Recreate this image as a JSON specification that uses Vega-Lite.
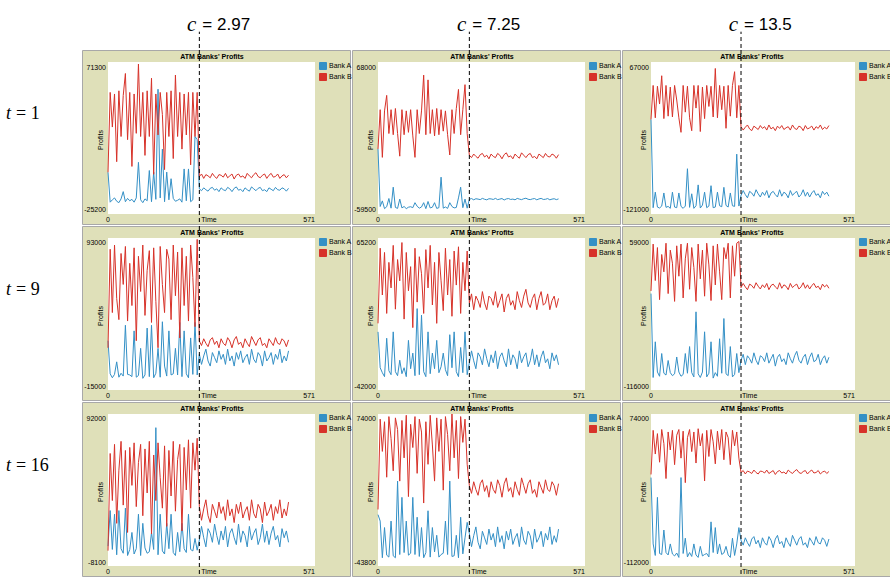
{
  "$schema": "https://vega.github.io/schema/vega-lite/v6.json",
  "background": "white",
  "padding": 0,
  "spacing": 0,
  "config": {
    "view": {"stroke": null},
    "concat": {"spacing": 2},
    "font": "Liberation Sans",
    "range": {"category": ["#3490c6", "#d73229"]},
    "line": {"strokeWidth": 1},
    "text": {"fontSize": 7, "color": "#000000"},
    "legend": {"symbolType": "square", "symbolSize": 49, "symbolStrokeWidth": 1, "symbolStrokeColor": "#333333", "symbolOpacity": 1, "labelFontSize": 7, "labelColor": "#000000", "labelOffset": 2, "rowPadding": -1, "padding": 0},
    "title": {"fontSize": 7, "fontWeight": "bold", "color": "#000000", "offset": -10, "frame": "group", "dx": -4}
  },
  "datasets": {
    "r1c1": [
      {"t":0,"a":1300,"b":1300},{"t":6,"a":-17700,"b":52000},{"t":12,"a":-16200,"b":30000},{"t":18,"a":-15000,"b":51000},{"t":24,"a":-17100,"b":8000},{"t":30,"a":-18000,"b":53000},{"t":36,"a":-15600,"b":24000},{"t":42,"a":-11000,"b":50000},{"t":48,"a":-17400,"b":64000},{"t":54,"a":-15300,"b":22000},{"t":60,"a":-16800,"b":52000},{"t":66,"a":-15900,"b":5000},{"t":72,"a":-17700,"b":51000},{"t":78,"a":-15000,"b":26000},{"t":84,"a":7600,"b":70000},{"t":90,"a":-16200,"b":24000},{"t":96,"a":-18000,"b":52000},{"t":102,"a":-15600,"b":12000},{"t":108,"a":-16800,"b":53000},{"t":114,"a":2400,"b":24000},{"t":120,"a":-17400,"b":61000},{"t":126,"a":1400,"b":0},{"t":132,"a":-15900,"b":51000},{"t":138,"a":54000,"b":25000},{"t":144,"a":-15000,"b":52000},{"t":150,"a":16000,"b":38000},{"t":156,"a":-17400,"b":3000},{"t":162,"a":1400,"b":52000},{"t":168,"a":-16200,"b":24000},{"t":174,"a":-2800,"b":53000},{"t":180,"a":-15300,"b":10000},{"t":186,"a":-17100,"b":63000},{"t":192,"a":-16500,"b":24000},{"t":198,"a":-15600,"b":52000},{"t":204,"a":-17700,"b":16000},{"t":210,"a":3400,"b":51000},{"t":216,"a":-16800,"b":25000},{"t":222,"a":3400,"b":52000},{"t":228,"a":-17400,"b":6000},{"t":234,"a":-16200,"b":52000},{"t":240,"a":24000,"b":24000},{"t":246,"a":22000,"b":52000},
      {"t":252,"a":-9200,"b":-1400},{"t":258,"a":-10400,"b":200},{"t":264,"a":-8600,"b":-2600},{"t":270,"a":-9800,"b":-200},{"t":276,"a":-10700,"b":-1000},{"t":282,"a":-8900,"b":-2200},{"t":288,"a":-8300,"b":600},{"t":294,"a":-10100,"b":-1400},{"t":300,"a":-9200,"b":-2600},{"t":306,"a":-11000,"b":-200},{"t":312,"a":-8600,"b":-600},{"t":318,"a":-9800,"b":-1800},{"t":324,"a":-10400,"b":600},{"t":330,"a":-8300,"b":-2200},{"t":336,"a":-9200,"b":-1000},{"t":342,"a":-11000,"b":200},{"t":348,"a":-8900,"b":-3000},{"t":354,"a":-8000,"b":-600},{"t":360,"a":-10100,"b":200},{"t":366,"a":-9500,"b":-1800},{"t":372,"a":-11000,"b":-1000},{"t":378,"a":-8600,"b":-2600},{"t":384,"a":-9800,"b":600},{"t":390,"a":-10700,"b":-1000},{"t":396,"a":-8000,"b":-2200},{"t":402,"a":-9200,"b":-200},{"t":408,"a":-10400,"b":1000},{"t":414,"a":-8900,"b":-1400},{"t":420,"a":-8300,"b":-2200},{"t":426,"a":-10400,"b":-600},{"t":432,"a":-9800,"b":200},{"t":438,"a":-11000,"b":-2600},{"t":444,"a":-8600,"b":-600},{"t":450,"a":-9500,"b":600},{"t":456,"a":-10400,"b":-1800},{"t":462,"a":-8300,"b":-1400},{"t":468,"a":-9800,"b":200},{"t":474,"a":-10100,"b":-2600},{"t":480,"a":-8600,"b":-1000},{"t":486,"a":-9200,"b":-200},{"t":492,"a":-10700,"b":-2200},{"t":498,"a":-8900,"b":-600}
    ],
    "r1c2": [
      {"t":0,"a":-5000,"b":-5000},{"t":6,"a":-53200,"b":28000},{"t":12,"a":-48500,"b":-12000},{"t":18,"a":-55000,"b":27000},{"t":24,"a":-53400,"b":40000},{"t":30,"a":-46500,"b":8000},{"t":36,"a":-54600,"b":28000},{"t":42,"a":-37000,"b":7000},{"t":48,"a":-54000,"b":29000},{"t":54,"a":-54800,"b":8000},{"t":60,"a":-47000,"b":-11000},{"t":66,"a":-54400,"b":28000},{"t":72,"a":-53200,"b":7000},{"t":78,"a":-55000,"b":27000},{"t":84,"a":-53800,"b":9000},{"t":90,"a":-53400,"b":28000},{"t":96,"a":-54200,"b":6000},{"t":102,"a":-50000,"b":-12000},{"t":108,"a":-53000,"b":28000},{"t":114,"a":-54600,"b":8000},{"t":120,"a":-53600,"b":27000},{"t":126,"a":-50000,"b":57000},{"t":132,"a":-55000,"b":7000},{"t":138,"a":-49000,"b":53000},{"t":144,"a":-54400,"b":8000},{"t":150,"a":-53800,"b":28000},{"t":156,"a":-50000,"b":6000},{"t":162,"a":-54800,"b":29000},{"t":168,"a":-54200,"b":7000},{"t":174,"a":-28600,"b":28000},{"t":180,"a":-54600,"b":10000},{"t":186,"a":-53600,"b":27000},{"t":192,"a":-54800,"b":7000},{"t":198,"a":-50000,"b":-10000},{"t":204,"a":-53200,"b":28000},{"t":210,"a":-54400,"b":8000},{"t":216,"a":-54000,"b":29000},{"t":222,"a":-46000,"b":45000},{"t":228,"a":-37000,"b":7000},{"t":234,"a":-54200,"b":28000},{"t":240,"a":-47000,"b":49000},{"t":246,"a":-54600,"b":8000},
      {"t":252,"a":-47150,"b":-10200},{"t":258,"a":-46550,"b":-12200},{"t":264,"a":-47600,"b":-9200},{"t":270,"a":-46700,"b":-11200},{"t":276,"a":-47000,"b":-12700},{"t":282,"a":-47450,"b":-9700},{"t":288,"a":-46400,"b":-8700},{"t":294,"a":-47150,"b":-11700},{"t":300,"a":-47600,"b":-10200},{"t":306,"a":-46700,"b":-13200},{"t":312,"a":-46850,"b":-9200},{"t":318,"a":-47300,"b":-11200},{"t":324,"a":-46400,"b":-12200},{"t":330,"a":-47450,"b":-8700},{"t":336,"a":-47000,"b":-10200},{"t":342,"a":-46550,"b":-13200},{"t":348,"a":-47750,"b":-9700},{"t":354,"a":-46850,"b":-8200},{"t":360,"a":-46550,"b":-11700},{"t":366,"a":-47300,"b":-10700},{"t":372,"a":-47000,"b":-13200},{"t":378,"a":-47600,"b":-9200},{"t":384,"a":-46400,"b":-11200},{"t":390,"a":-47000,"b":-12700},{"t":396,"a":-47450,"b":-8200},{"t":402,"a":-46700,"b":-10200},{"t":408,"a":-46250,"b":-12200},{"t":414,"a":-47150,"b":-9700},{"t":420,"a":-47450,"b":-8700},{"t":426,"a":-46850,"b":-12200},{"t":432,"a":-46550,"b":-11200},{"t":438,"a":-47600,"b":-13200},{"t":444,"a":-46850,"b":-9200},{"t":450,"a":-46400,"b":-10700},{"t":456,"a":-47300,"b":-12200},{"t":462,"a":-47150,"b":-8700},{"t":468,"a":-46550,"b":-11200},{"t":474,"a":-47600,"b":-11700},{"t":480,"a":-47000,"b":-9200},{"t":486,"a":-46700,"b":-10200},{"t":492,"a":-47450,"b":-12700},{"t":498,"a":-46850,"b":-9700}
    ],
    "r1c3": [
      {"t":0,"a":-4000,"b":-4000},{"t":6,"a":-113200,"b":38000},{"t":12,"a":-94000,"b":-2000},{"t":18,"a":-112400,"b":37000},{"t":24,"a":-113600,"b":15000},{"t":30,"a":-111200,"b":50000},{"t":36,"a":-95000,"b":-3000},{"t":42,"a":-112800,"b":38000},{"t":48,"a":-111600,"b":0},{"t":54,"a":-114000,"b":36000},{"t":60,"a":-94000,"b":-1000},{"t":66,"a":-112400,"b":38000},{"t":72,"a":-113200,"b":20000},{"t":78,"a":-95000,"b":-2000},{"t":84,"a":-111600,"b":-20000},{"t":90,"a":-114000,"b":38000},{"t":96,"a":-111200,"b":5000},{"t":102,"a":-65000,"b":37000},{"t":108,"a":-112800,"b":-2000},{"t":114,"a":-96000,"b":-18000},{"t":120,"a":-114000,"b":38000},{"t":126,"a":-110800,"b":10000},{"t":132,"a":-85000,"b":38000},{"t":138,"a":-113600,"b":-19000},{"t":144,"a":-110000,"b":36000},{"t":150,"a":-94000,"b":-3000},{"t":156,"a":-113200,"b":38000},{"t":162,"a":-111200,"b":12000},{"t":168,"a":-86000,"b":37000},{"t":174,"a":-113200,"b":-1000},{"t":180,"a":-112400,"b":59000},{"t":186,"a":-94000,"b":-2000},{"t":192,"a":-110800,"b":38000},{"t":198,"a":-112000,"b":8000},{"t":204,"a":-88000,"b":37000},{"t":210,"a":-110400,"b":-15000},{"t":216,"a":-112400,"b":38000},{"t":222,"a":-95000,"b":0},{"t":228,"a":-110800,"b":38000},{"t":234,"a":-111600,"b":55000},{"t":240,"a":-47000,"b":-2000},{"t":246,"a":-111200,"b":38000},
      {"t":252,"a":-98000,"b":-13000},{"t":258,"a":-92000,"b":-17200},{"t":264,"a":-97000,"b":-13700},{"t":270,"a":-101000,"b":-10900},{"t":276,"a":-93000,"b":-15800},{"t":282,"a":-95000,"b":-17900},{"t":288,"a":-99000,"b":-12300},{"t":294,"a":-91000,"b":-14400},{"t":300,"a":-96000,"b":-16500},{"t":306,"a":-100000,"b":-11600},{"t":312,"a":-94000,"b":-15100},{"t":318,"a":-98000,"b":-13000},{"t":324,"a":-92000,"b":-17200},{"t":330,"a":-101000,"b":-10900},{"t":336,"a":-95000,"b":-15800},{"t":342,"a":-93000,"b":-13700},{"t":348,"a":-97000,"b":-17900},{"t":354,"a":-100000,"b":-12300},{"t":360,"a":-91000,"b":-15100},{"t":366,"a":-99000,"b":-11600},{"t":372,"a":-94000,"b":-16500},{"t":378,"a":-96000,"b":-14400},{"t":384,"a":-101000,"b":-13000},{"t":390,"a":-92000,"b":-17200},{"t":396,"a":-98000,"b":-10900},{"t":402,"a":-95000,"b":-15100},{"t":408,"a":-93000,"b":-16500},{"t":414,"a":-100000,"b":-12300},{"t":420,"a":-97000,"b":-13700},{"t":426,"a":-91000,"b":-17900},{"t":432,"a":-99000,"b":-11600},{"t":438,"a":-94000,"b":-15800},{"t":444,"a":-100000,"b":-14400},{"t":450,"a":-95000,"b":-12300},{"t":456,"a":-92000,"b":-17200},{"t":462,"a":-98000,"b":-13000},{"t":468,"a":-96000,"b":-15100},{"t":474,"a":-101000,"b":-10900},{"t":480,"a":-93000,"b":-16500},{"t":486,"a":-97000,"b":-13700},{"t":492,"a":-94000,"b":-15800},{"t":498,"a":-99000,"b":-11600}
    ],
    "r2c1": [
      {"t":0,"a":20000,"b":15000},{"t":6,"a":-3500,"b":85000},{"t":12,"a":-6300,"b":40000},{"t":18,"a":-3900,"b":88000},{"t":24,"a":5000,"b":50000},{"t":30,"a":-5900,"b":35000},{"t":36,"a":-3100,"b":82000},{"t":42,"a":-5100,"b":60000},{"t":48,"a":31000,"b":87000},{"t":54,"a":-3900,"b":34000},{"t":60,"a":-4300,"b":75000},{"t":66,"a":-5500,"b":45000},{"t":72,"a":27000,"b":86000},{"t":78,"a":-5900,"b":20000},{"t":84,"a":-4700,"b":80000},{"t":90,"a":14600,"b":55000},{"t":96,"a":-6700,"b":88000},{"t":102,"a":-4300,"b":38000},{"t":108,"a":29000,"b":70000},{"t":114,"a":-5500,"b":84000},{"t":120,"a":31000,"b":33000},{"t":126,"a":-6300,"b":86000},{"t":132,"a":-3100,"b":48000},{"t":138,"a":14600,"b":15000},{"t":144,"a":-5900,"b":87000},{"t":150,"a":33500,"b":60000},{"t":156,"a":2000,"b":40000},{"t":162,"a":-5100,"b":85000},{"t":168,"a":27000,"b":78000},{"t":174,"a":-4300,"b":35000},{"t":180,"a":-3500,"b":88000},{"t":186,"a":14600,"b":52000},{"t":192,"a":-4300,"b":83000},{"t":198,"a":33000,"b":22000},{"t":204,"a":-5500,"b":86000},{"t":210,"a":27000,"b":45000},{"t":216,"a":-3500,"b":80000},{"t":222,"a":-6300,"b":34000},{"t":228,"a":22000,"b":88000},{"t":234,"a":-3900,"b":65000},{"t":240,"a":33000,"b":30000},{"t":246,"a":-4300,"b":92000},
      {"t":252,"a":10400,"b":19800},{"t":258,"a":3200,"b":16600},{"t":264,"a":9200,"b":21400},{"t":270,"a":14000,"b":18200},{"t":276,"a":5600,"b":15800},{"t":282,"a":2000,"b":20600},{"t":288,"a":11600,"b":22200},{"t":294,"a":8000,"b":17400},{"t":300,"a":4400,"b":19800},{"t":306,"a":12800,"b":15000},{"t":312,"a":6800,"b":21400},{"t":318,"a":10400,"b":18200},{"t":324,"a":3200,"b":16600},{"t":330,"a":14000,"b":22200},{"t":336,"a":5600,"b":19800},{"t":342,"a":9200,"b":15000},{"t":348,"a":2000,"b":20600},{"t":354,"a":11600,"b":23000},{"t":360,"a":6800,"b":17400},{"t":366,"a":12800,"b":19000},{"t":372,"a":4400,"b":15000},{"t":378,"a":8000,"b":21400},{"t":384,"a":10400,"b":18200},{"t":390,"a":3200,"b":15800},{"t":396,"a":14000,"b":23000},{"t":402,"a":6800,"b":19800},{"t":408,"a":4400,"b":16600},{"t":414,"a":11600,"b":20600},{"t":420,"a":9200,"b":22200},{"t":426,"a":2000,"b":16600},{"t":432,"a":12800,"b":18200},{"t":438,"a":5600,"b":15000},{"t":444,"a":8000,"b":21400},{"t":450,"a":11600,"b":19000},{"t":456,"a":3200,"b":16600},{"t":462,"a":10400,"b":22200},{"t":468,"a":6800,"b":18200},{"t":474,"a":14000,"b":17400},{"t":480,"a":4400,"b":21400},{"t":486,"a":9200,"b":19800},{"t":492,"a":5600,"b":15800},{"t":498,"a":12800,"b":20600}
    ],
    "r2c2": [
      {"t":0,"a":-1000,"b":5000},{"t":6,"a":-26300,"b":58000},{"t":12,"a":-29800,"b":25000},{"t":18,"a":-32600,"b":55000},{"t":24,"a":-5500,"b":12000},{"t":30,"a":-28400,"b":48000},{"t":36,"a":-31200,"b":30000},{"t":42,"a":-1000,"b":60000},{"t":48,"a":-29100,"b":15000},{"t":54,"a":-31900,"b":50000},{"t":60,"a":-21000,"b":35000},{"t":66,"a":-30500,"b":62000},{"t":72,"a":-26300,"b":8000},{"t":78,"a":-32600,"b":55000},{"t":84,"a":-7000,"b":28000},{"t":90,"a":-27000,"b":45000},{"t":96,"a":-16000,"b":2000},{"t":102,"a":-31900,"b":58000},{"t":108,"a":15400,"b":20000},{"t":114,"a":-31200,"b":52000},{"t":120,"a":10800,"b":40000},{"t":126,"a":-29100,"b":12000},{"t":132,"a":-32600,"b":57000},{"t":138,"a":-1000,"b":30000},{"t":144,"a":-30500,"b":60000},{"t":150,"a":-16000,"b":18000},{"t":156,"a":-27000,"b":48000},{"t":162,"a":-7000,"b":5000},{"t":168,"a":-29800,"b":55000},{"t":174,"a":-25600,"b":35000},{"t":180,"a":-16000,"b":14000},{"t":186,"a":-27700,"b":58000},{"t":192,"a":-31900,"b":25000},{"t":198,"a":-3000,"b":50000},{"t":204,"a":-26300,"b":10000},{"t":210,"a":-1000,"b":56000},{"t":216,"a":-29100,"b":32000},{"t":222,"a":-32600,"b":59000},{"t":228,"a":-12000,"b":12000},{"t":234,"a":-29800,"b":48000},{"t":240,"a":-1000,"b":28000},{"t":246,"a":-31200,"b":56000},
      {"t":252,"a":-22800,"b":19400},{"t":258,"a":-14400,"b":25800},{"t":264,"a":-21400,"b":14600},{"t":270,"a":-27000,"b":24200},{"t":276,"a":-15800,"b":21000},{"t":282,"a":-18600,"b":16200},{"t":288,"a":-24200,"b":27400},{"t":294,"a":-13000,"b":19400},{"t":300,"a":-20000,"b":14600},{"t":306,"a":-25600,"b":24200},{"t":312,"a":-17200,"b":22600},{"t":318,"a":-22800,"b":17800},{"t":324,"a":-14400,"b":27400},{"t":330,"a":-27000,"b":16200},{"t":336,"a":-18600,"b":21000},{"t":342,"a":-15800,"b":25800},{"t":348,"a":-21400,"b":13000},{"t":354,"a":-25600,"b":22600},{"t":360,"a":-13000,"b":25800},{"t":366,"a":-24200,"b":17800},{"t":372,"a":-17200,"b":21000},{"t":378,"a":-20000,"b":14600},{"t":384,"a":-27000,"b":27400},{"t":390,"a":-14400,"b":21000},{"t":396,"a":-22800,"b":16200},{"t":402,"a":-18600,"b":24200},{"t":408,"a":-15800,"b":29000},{"t":414,"a":-25600,"b":19400},{"t":420,"a":-21400,"b":16200},{"t":426,"a":-13000,"b":22600},{"t":432,"a":-24200,"b":25800},{"t":438,"a":-17200,"b":14600},{"t":444,"a":-25600,"b":22600},{"t":450,"a":-18600,"b":27400},{"t":456,"a":-14400,"b":17800},{"t":462,"a":-22800,"b":19400},{"t":468,"a":-20000,"b":25800},{"t":474,"a":-27000,"b":14600},{"t":480,"a":-15800,"b":21000},{"t":486,"a":-21400,"b":24200},{"t":492,"a":-17200,"b":16200},{"t":498,"a":-24200,"b":22600}
    ],
    "r2c3": [
      {"t":0,"a":-5000,"b":-2000},{"t":6,"a":-101600,"b":52000},{"t":12,"a":-60500,"b":10000},{"t":18,"a":-95300,"b":48000},{"t":24,"a":-100200,"b":-12000},{"t":30,"a":-74000,"b":40000},{"t":36,"a":-96700,"b":20000},{"t":42,"a":-98800,"b":53000},{"t":48,"a":-82000,"b":-5000},{"t":54,"a":-96000,"b":45000},{"t":60,"a":-99500,"b":30000},{"t":66,"a":-97400,"b":-14000},{"t":72,"a":-78000,"b":50000},{"t":78,"a":-95300,"b":15000},{"t":84,"a":-100200,"b":52000},{"t":90,"a":-98100,"b":-10000},{"t":96,"a":-74000,"b":35000},{"t":102,"a":-96700,"b":53000},{"t":108,"a":-66000,"b":0},{"t":114,"a":-96000,"b":48000},{"t":120,"a":-100900,"b":25000},{"t":126,"a":-26000,"b":-14000},{"t":132,"a":-97400,"b":52000},{"t":138,"a":-101600,"b":12000},{"t":144,"a":-95300,"b":45000},{"t":150,"a":-49000,"b":-8000},{"t":156,"a":-100900,"b":53000},{"t":162,"a":-96700,"b":28000},{"t":168,"a":-60500,"b":-13000},{"t":174,"a":-102300,"b":50000},{"t":180,"a":-96000,"b":5000},{"t":186,"a":-100200,"b":52000},{"t":192,"a":-57000,"b":20000},{"t":198,"a":-96700,"b":-12000},{"t":204,"a":-33700,"b":48000},{"t":210,"a":-97400,"b":35000},{"t":216,"a":-99500,"b":53000},{"t":222,"a":-66000,"b":-10000},{"t":228,"a":-100900,"b":50000},{"t":234,"a":-98100,"b":15000},{"t":240,"a":-74000,"b":53000},{"t":246,"a":-96000,"b":55000},
      {"t":252,"a":-81700,"b":1900},{"t":258,"a":-74900,"b":6700},{"t":264,"a":-86800,"b":2700},{"t":270,"a":-76600,"b":-500},{"t":276,"a":-80000,"b":5900},{"t":282,"a":-85100,"b":4300},{"t":288,"a":-73200,"b":1100},{"t":294,"a":-81700,"b":7500},{"t":300,"a":-86800,"b":3500},{"t":306,"a":-76600,"b":300},{"t":312,"a":-78300,"b":5100},{"t":318,"a":-83400,"b":1900},{"t":324,"a":-73200,"b":6700},{"t":330,"a":-85100,"b":-500},{"t":336,"a":-80000,"b":4300},{"t":342,"a":-74900,"b":5900},{"t":348,"a":-88500,"b":2700},{"t":354,"a":-78300,"b":300},{"t":360,"a":-74900,"b":7500},{"t":366,"a":-83400,"b":1100},{"t":372,"a":-80000,"b":5100},{"t":378,"a":-86800,"b":3500},{"t":384,"a":-73200,"b":-500},{"t":390,"a":-80000,"b":6700},{"t":396,"a":-85100,"b":1900},{"t":402,"a":-76600,"b":4300},{"t":408,"a":-71500,"b":5900},{"t":414,"a":-81700,"b":300},{"t":420,"a":-85100,"b":2700},{"t":426,"a":-78300,"b":7500},{"t":432,"a":-74900,"b":1100},{"t":438,"a":-86800,"b":5100},{"t":444,"a":-78300,"b":300},{"t":450,"a":-73200,"b":4300},{"t":456,"a":-83400,"b":6700},{"t":462,"a":-81700,"b":1900},{"t":468,"a":-74900,"b":3500},{"t":474,"a":-86800,"b":-500},{"t":480,"a":-80000,"b":5900},{"t":486,"a":-76600,"b":2700},{"t":492,"a":-85100,"b":5100},{"t":498,"a":-78300,"b":1100}
    ],
    "r3c1": [
      {"t":0,"a":5000,"b":2000},{"t":6,"a":28400,"b":66000},{"t":12,"a":2800,"b":35000},{"t":18,"a":26000,"b":72000},{"t":24,"a":-700,"b":20000},{"t":30,"a":28400,"b":55000},{"t":36,"a":3300,"b":74000},{"t":42,"a":300,"b":32000},{"t":48,"a":30000,"b":68000},{"t":54,"a":-1200,"b":14000},{"t":60,"a":2800,"b":70000},{"t":66,"a":14000,"b":45000},{"t":72,"a":-200,"b":73000},{"t":78,"a":3300,"b":31000},{"t":84,"a":26000,"b":60000},{"t":90,"a":-1200,"b":72000},{"t":96,"a":20000,"b":25000},{"t":102,"a":3800,"b":69000},{"t":108,"a":300,"b":40000},{"t":114,"a":1300,"b":74000},{"t":120,"a":14000,"b":13000},{"t":126,"a":2800,"b":65000},{"t":132,"a":83000,"b":35000},{"t":138,"a":-700,"b":73000},{"t":144,"a":26000,"b":50000},{"t":150,"a":1800,"b":30000},{"t":156,"a":-200,"b":71000},{"t":162,"a":20000,"b":18000},{"t":168,"a":3300,"b":68000},{"t":174,"a":26000,"b":38000},{"t":180,"a":800,"b":74000},{"t":186,"a":-1200,"b":28000},{"t":192,"a":14000,"b":62000},{"t":198,"a":1300,"b":72000},{"t":204,"a":20000,"b":15000},{"t":210,"a":3300,"b":70000},{"t":216,"a":800,"b":42000},{"t":222,"a":26000,"b":75000},{"t":228,"a":2800,"b":30000},{"t":234,"a":1800,"b":73000},{"t":240,"a":10000,"b":55000},{"t":246,"a":2300,"b":76000},
      {"t":252,"a":9000,"b":31000},{"t":258,"a":18000,"b":22000},{"t":264,"a":10500,"b":29500},{"t":270,"a":4500,"b":35500},{"t":276,"a":16500,"b":25000},{"t":282,"a":13500,"b":20500},{"t":288,"a":7500,"b":32500},{"t":294,"a":19500,"b":28000},{"t":300,"a":12000,"b":23500},{"t":306,"a":6000,"b":34000},{"t":312,"a":15000,"b":26500},{"t":318,"a":9000,"b":31000},{"t":324,"a":18000,"b":22000},{"t":330,"a":4500,"b":35500},{"t":336,"a":13500,"b":25000},{"t":342,"a":16500,"b":29500},{"t":348,"a":10500,"b":20500},{"t":354,"a":6000,"b":32500},{"t":360,"a":19500,"b":26500},{"t":366,"a":7500,"b":34000},{"t":372,"a":15000,"b":23500},{"t":378,"a":12000,"b":28000},{"t":384,"a":4500,"b":31000},{"t":390,"a":18000,"b":22000},{"t":396,"a":9000,"b":35500},{"t":402,"a":13500,"b":26500},{"t":408,"a":16500,"b":23500},{"t":414,"a":6000,"b":32500},{"t":420,"a":10500,"b":29500},{"t":426,"a":19500,"b":20500},{"t":432,"a":7500,"b":34000},{"t":438,"a":15000,"b":25000},{"t":444,"a":6000,"b":28000},{"t":450,"a":13500,"b":32500},{"t":456,"a":18000,"b":22000},{"t":462,"a":9000,"b":31000},{"t":468,"a":12000,"b":26500},{"t":474,"a":4500,"b":35500},{"t":480,"a":16500,"b":23500},{"t":486,"a":10500,"b":29500},{"t":492,"a":15000,"b":25000},{"t":498,"a":7500,"b":34000}
    ],
    "r3c2": [
      {"t":0,"a":-4000,"b":0},{"t":6,"a":-9000,"b":70000},{"t":12,"a":-37400,"b":45000},{"t":18,"a":-14000,"b":68000},{"t":24,"a":-35400,"b":25000},{"t":30,"a":-36900,"b":72000},{"t":36,"a":-9000,"b":55000},{"t":42,"a":-35900,"b":30000},{"t":48,"a":-37400,"b":71000},{"t":54,"a":22000,"b":62000},{"t":60,"a":-34900,"b":22000},{"t":66,"a":9400,"b":69000},{"t":72,"a":-33400,"b":40000},{"t":78,"a":-9000,"b":73000},{"t":84,"a":-35400,"b":10000},{"t":90,"a":-33900,"b":66000},{"t":96,"a":9400,"b":48000},{"t":102,"a":-34900,"b":72000},{"t":108,"a":-6000,"b":28000},{"t":114,"a":-36400,"b":70000},{"t":120,"a":-14000,"b":60000},{"t":126,"a":-37400,"b":5000},{"t":132,"a":-33400,"b":68000},{"t":138,"a":-1000,"b":35000},{"t":144,"a":-36900,"b":73000},{"t":150,"a":-14000,"b":50000},{"t":156,"a":-32900,"b":22000},{"t":162,"a":-20000,"b":71000},{"t":168,"a":-36900,"b":45000},{"t":174,"a":-34900,"b":70000},{"t":180,"a":-33900,"b":15000},{"t":186,"a":-9000,"b":72000},{"t":192,"a":-34900,"b":58000},{"t":198,"a":22000,"b":30000},{"t":204,"a":-36400,"b":74000},{"t":210,"a":-35900,"b":40000},{"t":216,"a":-20000,"b":69000},{"t":222,"a":-37400,"b":24000},{"t":228,"a":-6000,"b":72000},{"t":234,"a":-34400,"b":52000},{"t":240,"a":-22000,"b":70000},{"t":246,"a":-10000,"b":35000},
      {"t":252,"a":-18600,"b":18500},{"t":258,"a":-28800,"b":12500},{"t":264,"a":-20300,"b":21500},{"t":270,"a":-13500,"b":15500},{"t":276,"a":-25400,"b":11000},{"t":282,"a":-30500,"b":20000},{"t":288,"a":-16900,"b":23000},{"t":294,"a":-22000,"b":14000},{"t":300,"a":-27100,"b":18500},{"t":306,"a":-15200,"b":9500},{"t":312,"a":-23700,"b":21500},{"t":318,"a":-18600,"b":15500},{"t":324,"a":-28800,"b":12500},{"t":330,"a":-13500,"b":23000},{"t":336,"a":-25400,"b":18500},{"t":342,"a":-20300,"b":9500},{"t":348,"a":-30500,"b":20000},{"t":354,"a":-16900,"b":24500},{"t":360,"a":-23700,"b":14000},{"t":366,"a":-15200,"b":17000},{"t":372,"a":-27100,"b":9500},{"t":378,"a":-22000,"b":21500},{"t":384,"a":-18600,"b":15500},{"t":390,"a":-28800,"b":11000},{"t":396,"a":-13500,"b":24500},{"t":402,"a":-23700,"b":18500},{"t":408,"a":-27100,"b":12500},{"t":414,"a":-16900,"b":20000},{"t":420,"a":-20300,"b":23000},{"t":426,"a":-30500,"b":12500},{"t":432,"a":-15200,"b":15500},{"t":438,"a":-25400,"b":9500},{"t":444,"a":-22000,"b":21500},{"t":450,"a":-16900,"b":17000},{"t":456,"a":-28800,"b":12500},{"t":462,"a":-18600,"b":23000},{"t":468,"a":-23700,"b":15500},{"t":474,"a":-13500,"b":14000},{"t":480,"a":-27100,"b":21500},{"t":486,"a":-20300,"b":18500},{"t":492,"a":-25400,"b":11000},{"t":498,"a":-15200,"b":20000}
    ],
    "r3c3": [
      {"t":0,"a":-3800,"b":0},{"t":6,"a":-85000,"b":54000},{"t":12,"a":-99100,"b":25000},{"t":18,"a":-28000,"b":50000},{"t":24,"a":-96700,"b":15000},{"t":30,"a":-97900,"b":55000},{"t":36,"a":-68000,"b":38000},{"t":42,"a":-95500,"b":-5000},{"t":48,"a":-98500,"b":52000},{"t":54,"a":-85000,"b":30000},{"t":60,"a":-97300,"b":54000},{"t":66,"a":-99700,"b":12000},{"t":72,"a":-96100,"b":48000},{"t":78,"a":-101500,"b":55000},{"t":84,"a":-3800,"b":20000},{"t":90,"a":-96700,"b":53000},{"t":96,"a":-78000,"b":-10000},{"t":102,"a":-100900,"b":45000},{"t":108,"a":-95500,"b":55000},{"t":114,"a":-100300,"b":28000},{"t":120,"a":-85000,"b":52000},{"t":126,"a":-98500,"b":14000},{"t":132,"a":-101500,"b":56000},{"t":138,"a":-88000,"b":35000},{"t":144,"a":-99700,"b":50000},{"t":150,"a":-97900,"b":-8000},{"t":156,"a":-96700,"b":54000},{"t":162,"a":-100900,"b":22000},{"t":168,"a":-58000,"b":55000},{"t":174,"a":-95500,"b":40000},{"t":180,"a":-65000,"b":13000},{"t":186,"a":-97300,"b":53000},{"t":192,"a":-85000,"b":30000},{"t":198,"a":-97900,"b":55000},{"t":204,"a":-96100,"b":18000},{"t":210,"a":-88000,"b":52000},{"t":216,"a":-98500,"b":45000},{"t":222,"a":-101500,"b":12000},{"t":228,"a":-78000,"b":54000},{"t":234,"a":-99100,"b":35000},{"t":240,"a":-85000,"b":52000},{"t":246,"a":-65000,"b":20000},
      {"t":252,"a":-80500,"b":2400},{"t":258,"a":-86500,"b":4800},{"t":264,"a":-77500,"b":600},{"t":270,"a":-83500,"b":4200},{"t":276,"a":-88000,"b":3000},{"t":282,"a":-79000,"b":1200},{"t":288,"a":-76000,"b":5400},{"t":294,"a":-85000,"b":2400},{"t":300,"a":-80500,"b":600},{"t":306,"a":-89500,"b":4200},{"t":312,"a":-77500,"b":3600},{"t":318,"a":-83500,"b":1800},{"t":324,"a":-86500,"b":5400},{"t":330,"a":-76000,"b":1200},{"t":336,"a":-80500,"b":3000},{"t":342,"a":-89500,"b":4800},{"t":348,"a":-79000,"b":0},{"t":354,"a":-74500,"b":3600},{"t":360,"a":-85000,"b":4800},{"t":366,"a":-82000,"b":1800},{"t":372,"a":-89500,"b":3000},{"t":378,"a":-77500,"b":600},{"t":384,"a":-83500,"b":5400},{"t":390,"a":-88000,"b":3000},{"t":396,"a":-74500,"b":1200},{"t":402,"a":-80500,"b":4200},{"t":408,"a":-86500,"b":6000},{"t":414,"a":-79000,"b":2400},{"t":420,"a":-76000,"b":1200},{"t":426,"a":-86500,"b":3600},{"t":432,"a":-83500,"b":4800},{"t":438,"a":-89500,"b":600},{"t":444,"a":-77500,"b":3600},{"t":450,"a":-82000,"b":5400},{"t":456,"a":-86500,"b":1800},{"t":462,"a":-76000,"b":2400},{"t":468,"a":-83500,"b":4800},{"t":474,"a":-85000,"b":600},{"t":480,"a":-77500,"b":3000},{"t":486,"a":-80500,"b":4200},{"t":492,"a":-88000,"b":1200},{"t":498,"a":-79000,"b":3600}
    ]
  },
  "vconcat": [
    {
      "bounds": "flush",
      "hconcat": [
        {"width": 80, "height": 48, "data": {"values": [{}]}, "mark": "text", "encoding": {"text": {"value": " "}}},
        {"width": 268, "height": 48, "data": {"values": [{}]},
         "layer": [
           {"mark": {"type": "text", "align": "right", "baseline": "middle", "dx": -3, "dy": 1, "font": "Liberation Serif", "fontStyle": "italic", "fontSize": 21}, "encoding": {"x": {"datum": 252, "type": "quantitative", "scale": {"domain": [-71.72, 667.55], "nice": false, "zero": false}, "axis": null}, "text": {"value": "c"}}},
           {"mark": {"type": "text", "align": "left", "baseline": "middle", "dx": 3, "dy": 1, "font": "Liberation Sans", "fontSize": 17}, "encoding": {"x": {"datum": 252, "type": "quantitative", "axis": null}, "text": {"value": "= 2.97"}}},
           {"mark": {"type": "rule", "strokeDash": [4, 3], "color": "#000000"}, "encoding": {"x": {"datum": 252, "type": "quantitative", "axis": null}, "y": {"datum": 0, "type": "quantitative", "scale": {"domain": [0, 1], "nice": false}, "axis": null}, "y2": {"datum": 0.34}}}
         ]},
        {"width": 268, "height": 48, "data": {"values": [{}]},
         "layer": [
           {"mark": {"type": "text", "align": "right", "baseline": "middle", "dx": -3, "dy": 1, "font": "Liberation Serif", "fontStyle": "italic", "fontSize": 21}, "encoding": {"x": {"datum": 252, "type": "quantitative", "scale": {"domain": [-71.72, 667.55], "nice": false, "zero": false}, "axis": null}, "text": {"value": "c"}}},
           {"mark": {"type": "text", "align": "left", "baseline": "middle", "dx": 3, "dy": 1, "font": "Liberation Sans", "fontSize": 17}, "encoding": {"x": {"datum": 252, "type": "quantitative", "axis": null}, "text": {"value": "= 7.25"}}},
           {"mark": {"type": "rule", "strokeDash": [4, 3], "color": "#000000"}, "encoding": {"x": {"datum": 252, "type": "quantitative", "axis": null}, "y": {"datum": 0, "type": "quantitative", "scale": {"domain": [0, 1], "nice": false}, "axis": null}, "y2": {"datum": 0.34}}}
         ]},
        {"width": 268, "height": 48, "data": {"values": [{}]},
         "layer": [
           {"mark": {"type": "text", "align": "right", "baseline": "middle", "dx": -3, "dy": 1, "font": "Liberation Serif", "fontStyle": "italic", "fontSize": 21}, "encoding": {"x": {"datum": 252, "type": "quantitative", "scale": {"domain": [-81.17, 668.97], "nice": false, "zero": false}, "axis": null}, "text": {"value": "c"}}},
           {"mark": {"type": "text", "align": "left", "baseline": "middle", "dx": 3, "dy": 1, "font": "Liberation Sans", "fontSize": 17}, "encoding": {"x": {"datum": 252, "type": "quantitative", "axis": null}, "text": {"value": "= 13.5"}}},
           {"mark": {"type": "rule", "strokeDash": [4, 3], "color": "#000000"}, "encoding": {"x": {"datum": 252, "type": "quantitative", "axis": null}, "y": {"datum": 0, "type": "quantitative", "scale": {"domain": [0, 1], "nice": false}, "axis": null}, "y2": {"datum": 0.34}}}
         ]}
      ]
    },
    {
      "bounds": "flush",
      "hconcat": [
        {"width": 80, "height": 174, "data": {"values": [{}]}, "layer": [
          {"mark": {"type": "text", "align": "left", "baseline": "middle", "dx": -34, "dy": -23, "font": "Liberation Serif", "fontStyle": "italic", "fontSize": 18}, "encoding": {"text": {"value": "t"}}},
          {"mark": {"type": "text", "align": "left", "baseline": "middle", "dx": -24, "dy": -23, "font": "Liberation Serif", "fontSize": 18}, "encoding": {"text": {"value": "= 1"}}}
        ]},
        {"width": 268, "height": 174, "view": {"fill": "#dfe0b9", "stroke": "#a8a8a8"}, "title": "ATM Banks' Profits", "data": {"name": "r1c1"},
         "layer": [
           {"data": {"values": [{}]}, "mark": {"type": "square", "filled": true}, "encoding": {"color": {"datum": "Bank A", "legend": {"title": null, "orient": "none", "legendX": 237, "legendY": 12, "symbolType": "square"}}}},
           {"data": {"values": [{}]}, "mark": {"type": "rect", "fill": "white"}, "encoding": {"x": {"datum": 0, "type": "quantitative", "scale": {"domain": [-71.72, 667.55], "nice": false, "zero": false}, "axis": null}, "x2": {"datum": 571}, "y": {"datum": -25200, "type": "quantitative", "scale": {"domain": [-31549, 78918], "nice": false, "zero": false}, "axis": null}, "y2": {"datum": 71300}}},
           {"mark": "line", "encoding": {"x": {"field": "t", "type": "quantitative", "scale": {"domain": [-71.72, 667.55], "nice": false, "zero": false}, "axis": null}, "y": {"field": "a", "type": "quantitative", "scale": {"domain": [-31549, 78918], "nice": false, "zero": false}, "axis": null}, "color": {"datum": "Bank A"}}},
           {"mark": "line", "encoding": {"x": {"field": "t", "type": "quantitative", "axis": null}, "y": {"field": "b", "type": "quantitative", "axis": null}, "color": {"datum": "Bank B"}}},
           {"data": {"values": [{}]}, "mark": {"type": "rule", "strokeDash": [4, 3], "color": "#000000"}, "encoding": {"x": {"datum": 252, "type": "quantitative", "axis": null}}},
           {"data": {"values": [{}]}, "mark": {"type": "text", "align": "right", "baseline": "middle", "dx": -2, "dy": 6}, "encoding": {"x": {"datum": 0, "type": "quantitative", "axis": null}, "y": {"datum": 71300, "type": "quantitative", "axis": null}, "text": {"value": "71300"}}},
           {"data": {"values": [{}]}, "mark": {"type": "text", "align": "right", "baseline": "middle", "dx": -2, "dy": -4}, "encoding": {"x": {"datum": 0, "type": "quantitative", "axis": null}, "y": {"datum": -25200, "type": "quantitative", "axis": null}, "text": {"value": "-25200"}}},
           {"data": {"values": [{}]}, "mark": {"type": "text", "align": "center", "baseline": "top", "dy": 2}, "encoding": {"x": {"datum": 0, "type": "quantitative", "axis": null}, "y": {"datum": -25200, "type": "quantitative", "axis": null}, "text": {"value": "0"}}},
           {"data": {"values": [{}]}, "mark": {"type": "text", "align": "right", "baseline": "top", "dy": 2}, "encoding": {"x": {"datum": 571, "type": "quantitative", "axis": null}, "y": {"datum": -25200, "type": "quantitative", "axis": null}, "text": {"value": "571"}}},
           {"data": {"values": [{}]}, "mark": {"type": "text", "align": "left", "baseline": "top", "dx": 2, "dy": 2}, "encoding": {"x": {"datum": 252, "type": "quantitative", "axis": null}, "y": {"datum": -25200, "type": "quantitative", "axis": null}, "text": {"value": "Time"}}},
           {"data": {"values": [{}]}, "mark": {"type": "text", "align": "center", "baseline": "bottom", "angle": 270, "dx": -2, "dy": -4}, "encoding": {"x": {"datum": 0, "type": "quantitative", "axis": null}, "y": {"datum": 23050, "type": "quantitative", "axis": null}, "text": {"value": "Profits"}}}
         ]},
        {"width": 268, "height": 174, "view": {"fill": "#dfe0b9", "stroke": "#a8a8a8"}, "title": "ATM Banks' Profits", "data": {"name": "r1c2"},
         "layer": [
           {"data": {"values": [{}]}, "mark": {"type": "square", "filled": true}, "encoding": {"color": {"datum": "Bank A", "legend": {"title": null, "orient": "none", "legendX": 237, "legendY": 12, "symbolType": "square"}}}},
           {"data": {"values": [{}]}, "mark": {"type": "rect", "fill": "white"}, "encoding": {"x": {"datum": 0, "type": "quantitative", "scale": {"domain": [-71.72, 667.55], "nice": false, "zero": false}, "axis": null}, "x2": {"datum": 571}, "y": {"datum": -59500, "type": "quantitative", "scale": {"domain": [-67888, 78066], "nice": false, "zero": false}, "axis": null}, "y2": {"datum": 68000}}},
           {"mark": "line", "encoding": {"x": {"field": "t", "type": "quantitative", "scale": {"domain": [-71.72, 667.55], "nice": false, "zero": false}, "axis": null}, "y": {"field": "a", "type": "quantitative", "scale": {"domain": [-67888, 78066], "nice": false, "zero": false}, "axis": null}, "color": {"datum": "Bank A"}}},
           {"mark": "line", "encoding": {"x": {"field": "t", "type": "quantitative", "axis": null}, "y": {"field": "b", "type": "quantitative", "axis": null}, "color": {"datum": "Bank B"}}},
           {"data": {"values": [{}]}, "mark": {"type": "rule", "strokeDash": [4, 3], "color": "#000000"}, "encoding": {"x": {"datum": 252, "type": "quantitative", "axis": null}}},
           {"data": {"values": [{}]}, "mark": {"type": "text", "align": "right", "baseline": "middle", "dx": -2, "dy": 6}, "encoding": {"x": {"datum": 0, "type": "quantitative", "axis": null}, "y": {"datum": 68000, "type": "quantitative", "axis": null}, "text": {"value": "68000"}}},
           {"data": {"values": [{}]}, "mark": {"type": "text", "align": "right", "baseline": "middle", "dx": -2, "dy": -4}, "encoding": {"x": {"datum": 0, "type": "quantitative", "axis": null}, "y": {"datum": -59500, "type": "quantitative", "axis": null}, "text": {"value": "-59500"}}},
           {"data": {"values": [{}]}, "mark": {"type": "text", "align": "center", "baseline": "top", "dy": 2}, "encoding": {"x": {"datum": 0, "type": "quantitative", "axis": null}, "y": {"datum": -59500, "type": "quantitative", "axis": null}, "text": {"value": "0"}}},
           {"data": {"values": [{}]}, "mark": {"type": "text", "align": "right", "baseline": "top", "dy": 2}, "encoding": {"x": {"datum": 571, "type": "quantitative", "axis": null}, "y": {"datum": -59500, "type": "quantitative", "axis": null}, "text": {"value": "571"}}},
           {"data": {"values": [{}]}, "mark": {"type": "text", "align": "left", "baseline": "top", "dx": 2, "dy": 2}, "encoding": {"x": {"datum": 252, "type": "quantitative", "axis": null}, "y": {"datum": -59500, "type": "quantitative", "axis": null}, "text": {"value": "Time"}}},
           {"data": {"values": [{}]}, "mark": {"type": "text", "align": "center", "baseline": "bottom", "angle": 270, "dx": -2, "dy": -4}, "encoding": {"x": {"datum": 0, "type": "quantitative", "axis": null}, "y": {"datum": 4250, "type": "quantitative", "axis": null}, "text": {"value": "Profits"}}}
         ]},
        {"width": 268, "height": 174, "view": {"fill": "#dfe0b9", "stroke": "#a8a8a8"}, "title": "ATM Banks' Profits", "data": {"name": "r1c3"},
         "layer": [
           {"data": {"values": [{}]}, "mark": {"type": "square", "filled": true}, "encoding": {"color": {"datum": "Bank A", "legend": {"title": null, "orient": "none", "legendX": 237, "legendY": 12, "symbolType": "square"}}}},
           {"data": {"values": [{}]}, "mark": {"type": "rect", "fill": "white"}, "encoding": {"x": {"datum": 0, "type": "quantitative", "scale": {"domain": [-81.17, 668.97], "nice": false, "zero": false}, "axis": null}, "x2": {"datum": 571}, "y": {"datum": -121000, "type": "quantitative", "scale": {"domain": [-133368, 81842], "nice": false, "zero": false}, "axis": null}, "y2": {"datum": 67000}}},
           {"mark": "line", "encoding": {"x": {"field": "t", "type": "quantitative", "scale": {"domain": [-81.17, 668.97], "nice": false, "zero": false}, "axis": null}, "y": {"field": "a", "type": "quantitative", "scale": {"domain": [-133368, 81842], "nice": false, "zero": false}, "axis": null}, "color": {"datum": "Bank A"}}},
           {"mark": "line", "encoding": {"x": {"field": "t", "type": "quantitative", "axis": null}, "y": {"field": "b", "type": "quantitative", "axis": null}, "color": {"datum": "Bank B"}}},
           {"data": {"values": [{}]}, "mark": {"type": "rule", "strokeDash": [4, 3], "color": "#000000"}, "encoding": {"x": {"datum": 252, "type": "quantitative", "axis": null}}},
           {"data": {"values": [{}]}, "mark": {"type": "text", "align": "right", "baseline": "middle", "dx": -2, "dy": 6}, "encoding": {"x": {"datum": 0, "type": "quantitative", "axis": null}, "y": {"datum": 67000, "type": "quantitative", "axis": null}, "text": {"value": "67000"}}},
           {"data": {"values": [{}]}, "mark": {"type": "text", "align": "right", "baseline": "middle", "dx": -2, "dy": -4}, "encoding": {"x": {"datum": 0, "type": "quantitative", "axis": null}, "y": {"datum": -121000, "type": "quantitative", "axis": null}, "text": {"value": "-121000"}}},
           {"data": {"values": [{}]}, "mark": {"type": "text", "align": "center", "baseline": "top", "dy": 2}, "encoding": {"x": {"datum": 0, "type": "quantitative", "axis": null}, "y": {"datum": -121000, "type": "quantitative", "axis": null}, "text": {"value": "0"}}},
           {"data": {"values": [{}]}, "mark": {"type": "text", "align": "right", "baseline": "top", "dy": 2}, "encoding": {"x": {"datum": 571, "type": "quantitative", "axis": null}, "y": {"datum": -121000, "type": "quantitative", "axis": null}, "text": {"value": "571"}}},
           {"data": {"values": [{}]}, "mark": {"type": "text", "align": "left", "baseline": "top", "dx": 1, "dy": 2}, "encoding": {"x": {"datum": 252, "type": "quantitative", "axis": null}, "y": {"datum": -121000, "type": "quantitative", "axis": null}, "text": {"value": "Time"}}},
           {"data": {"values": [{}]}, "mark": {"type": "text", "align": "center", "baseline": "bottom", "angle": 270, "dx": -2, "dy": -4}, "encoding": {"x": {"datum": 0, "type": "quantitative", "axis": null}, "y": {"datum": -27000, "type": "quantitative", "axis": null}, "text": {"value": "Profits"}}}
         ]}
      ],
      "resolve": {"scale": {"color": "independent"}, "legend": {"color": "independent"}}
    },
    {
      "bounds": "flush",
      "hconcat": [
        {"width": 80, "height": 174, "data": {"values": [{}]}, "layer": [
          {"mark": {"type": "text", "align": "left", "baseline": "middle", "dx": -34, "dy": -23, "font": "Liberation Serif", "fontStyle": "italic", "fontSize": 18}, "encoding": {"text": {"value": "t"}}},
          {"mark": {"type": "text", "align": "left", "baseline": "middle", "dx": -24, "dy": -23, "font": "Liberation Serif", "fontSize": 18}, "encoding": {"text": {"value": "= 9"}}}
        ]},
        {"width": 268, "height": 174, "view": {"fill": "#dfe0b9", "stroke": "#a8a8a8"}, "title": "ATM Banks' Profits", "data": {"name": "r2c1"},
         "layer": [
           {"data": {"values": [{}]}, "mark": {"type": "square", "filled": true}, "encoding": {"color": {"datum": "Bank A", "legend": {"title": null, "orient": "none", "legendX": 237, "legendY": 12, "symbolType": "square"}}}},
           {"data": {"values": [{}]}, "mark": {"type": "rect", "fill": "white"}, "encoding": {"x": {"datum": 0, "type": "quantitative", "scale": {"domain": [-71.72, 667.55], "nice": false, "zero": false}, "axis": null}, "x2": {"datum": 571}, "y": {"datum": -15000, "type": "quantitative", "scale": {"domain": [-22105, 101526], "nice": false, "zero": false}, "axis": null}, "y2": {"datum": 93000}}},
           {"mark": "line", "encoding": {"x": {"field": "t", "type": "quantitative", "scale": {"domain": [-71.72, 667.55], "nice": false, "zero": false}, "axis": null}, "y": {"field": "a", "type": "quantitative", "scale": {"domain": [-22105, 101526], "nice": false, "zero": false}, "axis": null}, "color": {"datum": "Bank A"}}},
           {"mark": "line", "encoding": {"x": {"field": "t", "type": "quantitative", "axis": null}, "y": {"field": "b", "type": "quantitative", "axis": null}, "color": {"datum": "Bank B"}}},
           {"data": {"values": [{}]}, "mark": {"type": "rule", "strokeDash": [4, 3], "color": "#000000"}, "encoding": {"x": {"datum": 252, "type": "quantitative", "axis": null}}},
           {"data": {"values": [{}]}, "mark": {"type": "text", "align": "right", "baseline": "middle", "dx": -2, "dy": 5}, "encoding": {"x": {"datum": 0, "type": "quantitative", "axis": null}, "y": {"datum": 93000, "type": "quantitative", "axis": null}, "text": {"value": "93000"}}},
           {"data": {"values": [{}]}, "mark": {"type": "text", "align": "right", "baseline": "middle", "dx": -2, "dy": -3}, "encoding": {"x": {"datum": 0, "type": "quantitative", "axis": null}, "y": {"datum": -15000, "type": "quantitative", "axis": null}, "text": {"value": "-15000"}}},
           {"data": {"values": [{}]}, "mark": {"type": "text", "align": "center", "baseline": "top", "dy": 2}, "encoding": {"x": {"datum": 0, "type": "quantitative", "axis": null}, "y": {"datum": -15000, "type": "quantitative", "axis": null}, "text": {"value": "0"}}},
           {"data": {"values": [{}]}, "mark": {"type": "text", "align": "right", "baseline": "top", "dy": 2}, "encoding": {"x": {"datum": 571, "type": "quantitative", "axis": null}, "y": {"datum": -15000, "type": "quantitative", "axis": null}, "text": {"value": "571"}}},
           {"data": {"values": [{}]}, "mark": {"type": "text", "align": "left", "baseline": "top", "dx": 2, "dy": 2}, "encoding": {"x": {"datum": 252, "type": "quantitative", "axis": null}, "y": {"datum": -15000, "type": "quantitative", "axis": null}, "text": {"value": "Time"}}},
           {"data": {"values": [{}]}, "mark": {"type": "text", "align": "center", "baseline": "bottom", "angle": 270, "dx": -2, "dy": -4}, "encoding": {"x": {"datum": 0, "type": "quantitative", "axis": null}, "y": {"datum": 39000, "type": "quantitative", "axis": null}, "text": {"value": "Profits"}}}
         ]},
        {"width": 268, "height": 174, "view": {"fill": "#dfe0b9", "stroke": "#a8a8a8"}, "title": "ATM Banks' Profits", "data": {"name": "r2c2"},
         "layer": [
           {"data": {"values": [{}]}, "mark": {"type": "square", "filled": true}, "encoding": {"color": {"datum": "Bank A", "legend": {"title": null, "orient": "none", "legendX": 237, "legendY": 12, "symbolType": "square"}}}},
           {"data": {"values": [{}]}, "mark": {"type": "rect", "fill": "white"}, "encoding": {"x": {"datum": 0, "type": "quantitative", "scale": {"domain": [-71.72, 667.55], "nice": false, "zero": false}, "axis": null}, "x2": {"datum": 571}, "y": {"datum": -42000, "type": "quantitative", "scale": {"domain": [-49053, 73663], "nice": false, "zero": false}, "axis": null}, "y2": {"datum": 65200}}},
           {"mark": "line", "encoding": {"x": {"field": "t", "type": "quantitative", "scale": {"domain": [-71.72, 667.55], "nice": false, "zero": false}, "axis": null}, "y": {"field": "a", "type": "quantitative", "scale": {"domain": [-49053, 73663], "nice": false, "zero": false}, "axis": null}, "color": {"datum": "Bank A"}}},
           {"mark": "line", "encoding": {"x": {"field": "t", "type": "quantitative", "axis": null}, "y": {"field": "b", "type": "quantitative", "axis": null}, "color": {"datum": "Bank B"}}},
           {"data": {"values": [{}]}, "mark": {"type": "rule", "strokeDash": [4, 3], "color": "#000000"}, "encoding": {"x": {"datum": 252, "type": "quantitative", "axis": null}}},
           {"data": {"values": [{}]}, "mark": {"type": "text", "align": "right", "baseline": "middle", "dx": -2, "dy": 5}, "encoding": {"x": {"datum": 0, "type": "quantitative", "axis": null}, "y": {"datum": 65200, "type": "quantitative", "axis": null}, "text": {"value": "65200"}}},
           {"data": {"values": [{}]}, "mark": {"type": "text", "align": "right", "baseline": "middle", "dx": -2, "dy": -3}, "encoding": {"x": {"datum": 0, "type": "quantitative", "axis": null}, "y": {"datum": -42000, "type": "quantitative", "axis": null}, "text": {"value": "-42000"}}},
           {"data": {"values": [{}]}, "mark": {"type": "text", "align": "center", "baseline": "top", "dy": 2}, "encoding": {"x": {"datum": 0, "type": "quantitative", "axis": null}, "y": {"datum": -42000, "type": "quantitative", "axis": null}, "text": {"value": "0"}}},
           {"data": {"values": [{}]}, "mark": {"type": "text", "align": "right", "baseline": "top", "dy": 2}, "encoding": {"x": {"datum": 571, "type": "quantitative", "axis": null}, "y": {"datum": -42000, "type": "quantitative", "axis": null}, "text": {"value": "571"}}},
           {"data": {"values": [{}]}, "mark": {"type": "text", "align": "left", "baseline": "top", "dx": 2, "dy": 2}, "encoding": {"x": {"datum": 252, "type": "quantitative", "axis": null}, "y": {"datum": -42000, "type": "quantitative", "axis": null}, "text": {"value": "Time"}}},
           {"data": {"values": [{}]}, "mark": {"type": "text", "align": "center", "baseline": "bottom", "angle": 270, "dx": -2, "dy": -4}, "encoding": {"x": {"datum": 0, "type": "quantitative", "axis": null}, "y": {"datum": 11600, "type": "quantitative", "axis": null}, "text": {"value": "Profits"}}}
         ]},
        {"width": 268, "height": 174, "view": {"fill": "#dfe0b9", "stroke": "#a8a8a8"}, "title": "ATM Banks' Profits", "data": {"name": "r2c3"},
         "layer": [
           {"data": {"values": [{}]}, "mark": {"type": "square", "filled": true}, "encoding": {"color": {"datum": "Bank A", "legend": {"title": null, "orient": "none", "legendX": 237, "legendY": 12, "symbolType": "square"}}}},
           {"data": {"values": [{}]}, "mark": {"type": "rect", "fill": "white"}, "encoding": {"x": {"datum": 0, "type": "quantitative", "scale": {"domain": [-81.17, 668.97], "nice": false, "zero": false}, "axis": null}, "x2": {"datum": 571}, "y": {"datum": -116000, "type": "quantitative", "scale": {"domain": [-127513, 72816], "nice": false, "zero": false}, "axis": null}, "y2": {"datum": 59000}}},
           {"mark": "line", "encoding": {"x": {"field": "t", "type": "quantitative", "scale": {"domain": [-81.17, 668.97], "nice": false, "zero": false}, "axis": null}, "y": {"field": "a", "type": "quantitative", "scale": {"domain": [-127513, 72816], "nice": false, "zero": false}, "axis": null}, "color": {"datum": "Bank A"}}},
           {"mark": "line", "encoding": {"x": {"field": "t", "type": "quantitative", "axis": null}, "y": {"field": "b", "type": "quantitative", "axis": null}, "color": {"datum": "Bank B"}}},
           {"data": {"values": [{}]}, "mark": {"type": "rule", "strokeDash": [4, 3], "color": "#000000"}, "encoding": {"x": {"datum": 252, "type": "quantitative", "axis": null}}},
           {"data": {"values": [{}]}, "mark": {"type": "text", "align": "right", "baseline": "middle", "dx": -2, "dy": 5}, "encoding": {"x": {"datum": 0, "type": "quantitative", "axis": null}, "y": {"datum": 59000, "type": "quantitative", "axis": null}, "text": {"value": "59000"}}},
           {"data": {"values": [{}]}, "mark": {"type": "text", "align": "right", "baseline": "middle", "dx": -2, "dy": -3}, "encoding": {"x": {"datum": 0, "type": "quantitative", "axis": null}, "y": {"datum": -116000, "type": "quantitative", "axis": null}, "text": {"value": "-116000"}}},
           {"data": {"values": [{}]}, "mark": {"type": "text", "align": "center", "baseline": "top", "dy": 2}, "encoding": {"x": {"datum": 0, "type": "quantitative", "axis": null}, "y": {"datum": -116000, "type": "quantitative", "axis": null}, "text": {"value": "0"}}},
           {"data": {"values": [{}]}, "mark": {"type": "text", "align": "right", "baseline": "top", "dy": 2}, "encoding": {"x": {"datum": 571, "type": "quantitative", "axis": null}, "y": {"datum": -116000, "type": "quantitative", "axis": null}, "text": {"value": "571"}}},
           {"data": {"values": [{}]}, "mark": {"type": "text", "align": "left", "baseline": "top", "dx": 1, "dy": 2}, "encoding": {"x": {"datum": 252, "type": "quantitative", "axis": null}, "y": {"datum": -116000, "type": "quantitative", "axis": null}, "text": {"value": "Time"}}},
           {"data": {"values": [{}]}, "mark": {"type": "text", "align": "center", "baseline": "bottom", "angle": 270, "dx": -2, "dy": -4}, "encoding": {"x": {"datum": 0, "type": "quantitative", "axis": null}, "y": {"datum": -28500, "type": "quantitative", "axis": null}, "text": {"value": "Profits"}}}
         ]}
      ],
      "resolve": {"scale": {"color": "independent"}, "legend": {"color": "independent"}}
    },
    {
      "bounds": "flush",
      "hconcat": [
        {"width": 80, "height": 174, "data": {"values": [{}]}, "layer": [
          {"mark": {"type": "text", "align": "left", "baseline": "middle", "dx": -34, "dy": -23, "font": "Liberation Serif", "fontStyle": "italic", "fontSize": 18}, "encoding": {"text": {"value": "t"}}},
          {"mark": {"type": "text", "align": "left", "baseline": "middle", "dx": -24, "dy": -23, "font": "Liberation Serif", "fontSize": 18}, "encoding": {"text": {"value": "= 16"}}}
        ]},
        {"width": 268, "height": 174, "view": {"fill": "#dfe0b9", "stroke": "#a8a8a8"}, "title": "ATM Banks' Profits", "data": {"name": "r3c1"},
         "layer": [
           {"data": {"values": [{}]}, "mark": {"type": "square", "filled": true}, "encoding": {"color": {"datum": "Bank A", "legend": {"title": null, "orient": "none", "legendX": 237, "legendY": 12, "symbolType": "square"}}}},
           {"data": {"values": [{}]}, "mark": {"type": "rect", "fill": "white"}, "encoding": {"x": {"datum": 0, "type": "quantitative", "scale": {"domain": [-71.72, 667.55], "nice": false, "zero": false}, "axis": null}, "x2": {"datum": 571}, "y": {"datum": -8100, "type": "quantitative", "scale": {"domain": [-14686, 99903], "nice": false, "zero": false}, "axis": null}, "y2": {"datum": 92000}}},
           {"mark": "line", "encoding": {"x": {"field": "t", "type": "quantitative", "scale": {"domain": [-71.72, 667.55], "nice": false, "zero": false}, "axis": null}, "y": {"field": "a", "type": "quantitative", "scale": {"domain": [-14686, 99903], "nice": false, "zero": false}, "axis": null}, "color": {"datum": "Bank A"}}},
           {"mark": "line", "encoding": {"x": {"field": "t", "type": "quantitative", "axis": null}, "y": {"field": "b", "type": "quantitative", "axis": null}, "color": {"datum": "Bank B"}}},
           {"data": {"values": [{}]}, "mark": {"type": "rule", "strokeDash": [4, 3], "color": "#000000"}, "encoding": {"x": {"datum": 252, "type": "quantitative", "axis": null}}},
           {"data": {"values": [{}]}, "mark": {"type": "text", "align": "right", "baseline": "middle", "dx": -2, "dy": 5}, "encoding": {"x": {"datum": 0, "type": "quantitative", "axis": null}, "y": {"datum": 92000, "type": "quantitative", "axis": null}, "text": {"value": "92000"}}},
           {"data": {"values": [{}]}, "mark": {"type": "text", "align": "right", "baseline": "middle", "dx": -2, "dy": -3}, "encoding": {"x": {"datum": 0, "type": "quantitative", "axis": null}, "y": {"datum": -8100, "type": "quantitative", "axis": null}, "text": {"value": "-8100"}}},
           {"data": {"values": [{}]}, "mark": {"type": "text", "align": "center", "baseline": "top", "dy": 2}, "encoding": {"x": {"datum": 0, "type": "quantitative", "axis": null}, "y": {"datum": -8100, "type": "quantitative", "axis": null}, "text": {"value": "0"}}},
           {"data": {"values": [{}]}, "mark": {"type": "text", "align": "right", "baseline": "top", "dy": 2}, "encoding": {"x": {"datum": 571, "type": "quantitative", "axis": null}, "y": {"datum": -8100, "type": "quantitative", "axis": null}, "text": {"value": "571"}}},
           {"data": {"values": [{}]}, "mark": {"type": "text", "align": "left", "baseline": "top", "dx": 2, "dy": 2}, "encoding": {"x": {"datum": 252, "type": "quantitative", "axis": null}, "y": {"datum": -8100, "type": "quantitative", "axis": null}, "text": {"value": "Time"}}},
           {"data": {"values": [{}]}, "mark": {"type": "text", "align": "center", "baseline": "bottom", "angle": 270, "dx": -2, "dy": -4}, "encoding": {"x": {"datum": 0, "type": "quantitative", "axis": null}, "y": {"datum": 41950, "type": "quantitative", "axis": null}, "text": {"value": "Profits"}}}
         ]},
        {"width": 268, "height": 174, "view": {"fill": "#dfe0b9", "stroke": "#a8a8a8"}, "title": "ATM Banks' Profits", "data": {"name": "r3c2"},
         "layer": [
           {"data": {"values": [{}]}, "mark": {"type": "square", "filled": true}, "encoding": {"color": {"datum": "Bank A", "legend": {"title": null, "orient": "none", "legendX": 237, "legendY": 12, "symbolType": "square"}}}},
           {"data": {"values": [{}]}, "mark": {"type": "rect", "fill": "white"}, "encoding": {"x": {"datum": 0, "type": "quantitative", "scale": {"domain": [-71.72, 667.55], "nice": false, "zero": false}, "axis": null}, "x2": {"datum": 571}, "y": {"datum": -43800, "type": "quantitative", "scale": {"domain": [-51550, 83300], "nice": false, "zero": false}, "axis": null}, "y2": {"datum": 74000}}},
           {"mark": "line", "encoding": {"x": {"field": "t", "type": "quantitative", "scale": {"domain": [-71.72, 667.55], "nice": false, "zero": false}, "axis": null}, "y": {"field": "a", "type": "quantitative", "scale": {"domain": [-51550, 83300], "nice": false, "zero": false}, "axis": null}, "color": {"datum": "Bank A"}}},
           {"mark": "line", "encoding": {"x": {"field": "t", "type": "quantitative", "axis": null}, "y": {"field": "b", "type": "quantitative", "axis": null}, "color": {"datum": "Bank B"}}},
           {"data": {"values": [{}]}, "mark": {"type": "rule", "strokeDash": [4, 3], "color": "#000000"}, "encoding": {"x": {"datum": 252, "type": "quantitative", "axis": null}}},
           {"data": {"values": [{}]}, "mark": {"type": "text", "align": "right", "baseline": "middle", "dx": -2, "dy": 5}, "encoding": {"x": {"datum": 0, "type": "quantitative", "axis": null}, "y": {"datum": 74000, "type": "quantitative", "axis": null}, "text": {"value": "74000"}}},
           {"data": {"values": [{}]}, "mark": {"type": "text", "align": "right", "baseline": "middle", "dx": -2, "dy": -3}, "encoding": {"x": {"datum": 0, "type": "quantitative", "axis": null}, "y": {"datum": -43800, "type": "quantitative", "axis": null}, "text": {"value": "-43800"}}},
           {"data": {"values": [{}]}, "mark": {"type": "text", "align": "center", "baseline": "top", "dy": 2}, "encoding": {"x": {"datum": 0, "type": "quantitative", "axis": null}, "y": {"datum": -43800, "type": "quantitative", "axis": null}, "text": {"value": "0"}}},
           {"data": {"values": [{}]}, "mark": {"type": "text", "align": "right", "baseline": "top", "dy": 2}, "encoding": {"x": {"datum": 571, "type": "quantitative", "axis": null}, "y": {"datum": -43800, "type": "quantitative", "axis": null}, "text": {"value": "571"}}},
           {"data": {"values": [{}]}, "mark": {"type": "text", "align": "left", "baseline": "top", "dx": 2, "dy": 2}, "encoding": {"x": {"datum": 252, "type": "quantitative", "axis": null}, "y": {"datum": -43800, "type": "quantitative", "axis": null}, "text": {"value": "Time"}}},
           {"data": {"values": [{}]}, "mark": {"type": "text", "align": "center", "baseline": "bottom", "angle": 270, "dx": -2, "dy": -4}, "encoding": {"x": {"datum": 0, "type": "quantitative", "axis": null}, "y": {"datum": 15100, "type": "quantitative", "axis": null}, "text": {"value": "Profits"}}}
         ]},
        {"width": 268, "height": 174, "view": {"fill": "#dfe0b9", "stroke": "#a8a8a8"}, "title": "ATM Banks' Profits", "data": {"name": "r3c3"},
         "layer": [
           {"data": {"values": [{}]}, "mark": {"type": "square", "filled": true}, "encoding": {"color": {"datum": "Bank A", "legend": {"title": null, "orient": "none", "legendX": 237, "legendY": 12, "symbolType": "square"}}}},
           {"data": {"values": [{}]}, "mark": {"type": "rect", "fill": "white"}, "encoding": {"x": {"datum": 0, "type": "quantitative", "scale": {"domain": [-81.17, 668.97], "nice": false, "zero": false}, "axis": null}, "x2": {"datum": 571}, "y": {"datum": -112000, "type": "quantitative", "scale": {"domain": [-124237, 88684], "nice": false, "zero": false}, "axis": null}, "y2": {"datum": 74000}}},
           {"mark": "line", "encoding": {"x": {"field": "t", "type": "quantitative", "scale": {"domain": [-81.17, 668.97], "nice": false, "zero": false}, "axis": null}, "y": {"field": "a", "type": "quantitative", "scale": {"domain": [-124237, 88684], "nice": false, "zero": false}, "axis": null}, "color": {"datum": "Bank A"}}},
           {"mark": "line", "encoding": {"x": {"field": "t", "type": "quantitative", "axis": null}, "y": {"field": "b", "type": "quantitative", "axis": null}, "color": {"datum": "Bank B"}}},
           {"data": {"values": [{}]}, "mark": {"type": "rule", "strokeDash": [4, 3], "color": "#000000"}, "encoding": {"x": {"datum": 252, "type": "quantitative", "axis": null}}},
           {"data": {"values": [{}]}, "mark": {"type": "text", "align": "right", "baseline": "middle", "dx": -2, "dy": 5}, "encoding": {"x": {"datum": 0, "type": "quantitative", "axis": null}, "y": {"datum": 74000, "type": "quantitative", "axis": null}, "text": {"value": "74000"}}},
           {"data": {"values": [{}]}, "mark": {"type": "text", "align": "right", "baseline": "middle", "dx": -2, "dy": -3}, "encoding": {"x": {"datum": 0, "type": "quantitative", "axis": null}, "y": {"datum": -112000, "type": "quantitative", "axis": null}, "text": {"value": "-112000"}}},
           {"data": {"values": [{}]}, "mark": {"type": "text", "align": "center", "baseline": "top", "dy": 2}, "encoding": {"x": {"datum": 0, "type": "quantitative", "axis": null}, "y": {"datum": -112000, "type": "quantitative", "axis": null}, "text": {"value": "0"}}},
           {"data": {"values": [{}]}, "mark": {"type": "text", "align": "right", "baseline": "top", "dy": 2}, "encoding": {"x": {"datum": 571, "type": "quantitative", "axis": null}, "y": {"datum": -112000, "type": "quantitative", "axis": null}, "text": {"value": "571"}}},
           {"data": {"values": [{}]}, "mark": {"type": "text", "align": "left", "baseline": "top", "dx": 1, "dy": 2}, "encoding": {"x": {"datum": 252, "type": "quantitative", "axis": null}, "y": {"datum": -112000, "type": "quantitative", "axis": null}, "text": {"value": "Time"}}},
           {"data": {"values": [{}]}, "mark": {"type": "text", "align": "center", "baseline": "bottom", "angle": 270, "dx": -2, "dy": -4}, "encoding": {"x": {"datum": 0, "type": "quantitative", "axis": null}, "y": {"datum": -19000, "type": "quantitative", "axis": null}, "text": {"value": "Profits"}}}
         ]}
      ],
      "resolve": {"scale": {"color": "independent"}, "legend": {"color": "independent"}}
    }
  ],
  "resolve": {"scale": {"color": "independent"}, "legend": {"color": "independent"}}
}
